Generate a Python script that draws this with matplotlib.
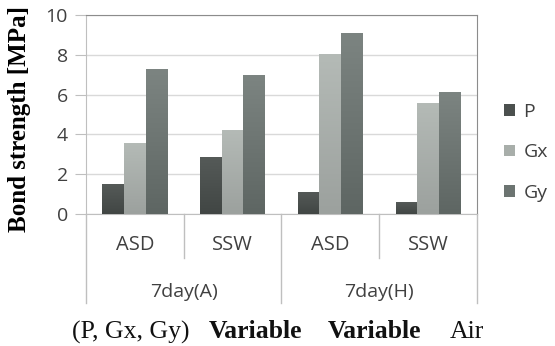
import numpy as np
import matplotlib
matplotlib.use("Agg")
import matplotlib.pyplot as plt
import matplotlib.transforms as mtrans
from matplotlib.colors import LinearSegmentedColormap

# dados
categorias = ["ASD", "SSW", "ASD", "SSW"]
grupos = ["7day(A)", "7day(H)"]
series = ["P", "Gx", "Gy"]
P = [1.5, 2.85, 1.12, 0.59]
Gx = [3.55, 4.22, 8.04, 5.56]
Gy = [7.27, 6.98, 9.11, 6.11]
yticks = [0, 2, 4, 6, 8, 10]

cores = ["#4b504e", "#a8aeaa", "#6c7471"]
# gradiente vertical (base, topo) de cada série
grad_cores = [("#414644", "#555a58"), ("#9ca19e", "#b4bab6"), ("#5e6663", "#7c8481")]
sans = ["Open Sans", "DejaVu Sans"]
serif = ["Liberation Serif", "DejaVu Serif"]
cinza_txt = "#404040"

fig = plt.figure(figsize=(5.55, 3.46), dpi=100)
ax = fig.add_axes([0.155, 0.3815, 0.704, 0.575])

x = np.arange(len(categorias))
w = 0.221
grad = np.linspace(0, 1, 64).reshape(-1, 1)
for i, (vals, nome) in enumerate(zip([P, Gx, Gy], series)):
    barras = ax.bar(x + (i - 1) * w, vals, width=w, color=cores[i], label=nome, zorder=3)
    cmap = LinearSegmentedColormap.from_list(nome, grad_cores[i])
    for b in barras:
        x0, y0 = b.get_x(), b.get_y()
        im = ax.imshow(grad, extent=[x0, x0 + b.get_width(), y0, y0 + b.get_height()],
                       origin="lower", aspect="auto", cmap=cmap, zorder=3.5)
        im.set_clip_path(b)

ax.set_aspect("auto")
ax.set_xlim(-0.5, 3.5)
ax.set_ylim(0, 10)
ax.set_yticks(yticks)
ax.set_yticklabels([str(t) for t in yticks], fontsize=14, family=sans, color=cinza_txt)
ax.tick_params(axis="y", length=8, color="#bfbfbf", pad=5)
ax.set_xticks([])
ax.grid(axis="y", color="#d9d9d9", linewidth=1, zorder=0)

for s in ["top", "right"]:
    ax.spines[s].set_color("#8c8c8c")
ax.spines["left"].set_color("#bfbfbf")
ax.spines["bottom"].set_color("#bfbfbf")

# eixo categórico em dois níveis
tr = mtrans.blended_transform_factory(ax.transData, ax.transAxes)
for xs in [0.5, 2.5]:
    ax.plot([xs, xs], [0, -0.221], transform=tr, color="#bfbfbf", lw=1, clip_on=False)
for xs in [-0.5, 1.5, 3.5]:
    ax.plot([xs, xs], [0, -0.447], transform=tr, color="#bfbfbf", lw=1, clip_on=False)
for xi, c in zip(x, categorias):
    ax.text(xi, -0.158, c, transform=tr, ha="center", va="center",
            fontsize=14.5, family=sans, color=cinza_txt)
for xi, g in zip([0.5, 2.5], grupos):
    ax.text(xi, -0.392, g, transform=tr, ha="center", va="center",
            fontsize=14, family=sans, color=cinza_txt)

ax.legend(loc="center left", bbox_to_anchor=(0.908, 0.56), bbox_transform=fig.transFigure,
          frameon=False, prop={"family": sans, "size": 14}, handlelength=0.55,
          handleheight=0.55, handletextpad=0.45, labelspacing=1.15, labelcolor=cinza_txt,
          borderpad=0, borderaxespad=0)

fig.text(0.036, 0.655, "Bond strength [MPa]", rotation=90, ha="center", va="center",
         family=serif, weight="bold", fontsize=18)

# legenda inferior
partes = [("(P, Gx, Gy)", "normal", 72), ("Variable", "bold", 209),
          ("Variable", "bold", 328), ("Air", "normal", 450)]
for txt, peso, px in partes:
    fig.text(px / 555, 0.022, txt, ha="left", va="baseline", family=serif,
             weight=peso, fontsize=18.5, color="#111111")

fig.savefig("out.png", dpi=100)
